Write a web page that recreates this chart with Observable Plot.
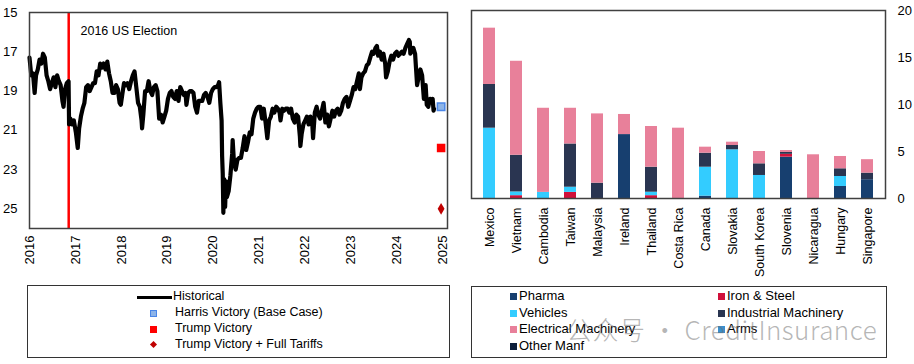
<!DOCTYPE html>
<html><head><meta charset="utf-8">
<script src="https://cdn.jsdelivr.net/npm/d3@7"></script>
<script src="https://cdn.jsdelivr.net/npm/@observablehq/plot@0.6"></script>
<style>
body{margin:0;background:#fff;font-family:"Liberation Sans",Arial,sans-serif;}
#wrap{position:relative;width:914px;height:364px;overflow:hidden;background:#fff;}
.chart{position:absolute;top:0;}
.legend{position:absolute;border:1.5px solid #333;box-sizing:border-box;color:#000;}
.item{position:absolute;white-space:nowrap;line-height:14px;}
.sw{position:absolute;}
#wm{position:absolute;left:566px;top:310px;font-family:"Noto Sans CJK SC","Noto Sans",sans-serif;font-weight:300;font-size:26px;color:rgba(110,110,110,0.5);white-space:nowrap;letter-spacing:0.5px;}
</style></head>
<body><div id="wrap"></div>
<script>
// ---------------- Left chart data (inverted USD/MXN) ----------------
const historical = [
["2016-01-01",17.3],["2016-01-15",18.2],["2016-01-29",18.1],["2016-02-11",19.1],["2016-02-22",18.2],
["2016-03-07",17.9],["2016-03-21",17.4],["2016-04-04",17.6],["2016-04-18",17.1],["2016-05-02",17.3],
["2016-05-16",18.2],["2016-05-30",18.5],["2016-06-13",18.9],["2016-06-27",18.6],["2016-07-11",18.3],
["2016-07-25",18.8],["2016-08-08",18.2],["2016-08-22",18.5],["2016-09-05",18.7],["2016-09-19",19.5],
["2016-09-28",19.8],["2016-10-10",18.9],["2016-10-24",18.6],["2016-11-07",18.5],["2016-11-11",20.7],
["2016-11-21",20.4],["2016-12-05",20.7],["2016-12-19",20.5],
["2017-01-04",21.1],["2017-01-19",21.9],["2017-01-30",20.9],["2017-02-13",20.3],["2017-02-27",19.9],
["2017-03-13",19.6],["2017-03-27",18.8],["2017-04-10",18.7],["2017-04-24",19.0],["2017-05-08",18.8],
["2017-05-22",18.6],["2017-06-05",18.6],["2017-06-19",18.0],["2017-07-03",18.2],["2017-07-17",17.6],
["2017-07-31",17.8],["2017-08-14",17.6],["2017-08-28",17.9],["2017-09-11",17.5],["2017-09-25",18.1],
["2017-10-09",18.5],["2017-10-23",19.1],["2017-11-06",19.1],["2017-11-20",18.7],["2017-12-04",18.9],
["2017-12-18",19.6],["2017-12-28",19.7],
["2018-01-08",19.2],["2018-01-22",18.6],["2018-02-05",18.7],["2018-02-19",18.6],["2018-03-05",18.9],
["2018-03-19",18.5],["2018-04-02",18.2],["2018-04-16",18.0],["2018-04-30",18.8],["2018-05-14",19.6],
["2018-05-28",19.8],["2018-06-11",20.5],["2018-06-15",20.9],["2018-06-25",20.2],["2018-07-09",19.0],
["2018-07-23",19.0],["2018-08-06",18.5],["2018-08-20",19.0],["2018-09-03",19.2],["2018-09-17",18.8],
["2018-10-01",18.7],["2018-10-15",19.0],["2018-10-29",20.4],["2018-11-12",20.2],["2018-11-26",20.6],
["2018-12-10",20.3],["2018-12-24",20.0],
["2019-01-07",19.4],["2019-01-21",19.1],["2019-02-04",19.0],["2019-02-18",19.3],["2019-03-04",19.4],
["2019-03-18",19.0],["2019-04-01",19.5],["2019-04-15",18.8],["2019-04-29",19.0],["2019-05-13",19.2],
["2019-05-27",19.1],["2019-06-03",19.7],["2019-06-17",19.1],["2019-07-01",19.0],["2019-07-15",19.0],
["2019-07-29",19.1],["2019-08-12",19.8],["2019-08-26",20.1],["2019-09-09",19.5],["2019-09-23",19.5],
["2019-10-07",19.5],["2019-10-21",19.2],["2019-11-04",19.1],["2019-11-18",19.3],["2019-12-02",19.6],
["2019-12-16",19.1],["2019-12-30",18.9],
["2020-01-13",18.8],["2020-01-27",18.8],["2020-02-10",18.7],["2020-02-18",18.55],["2020-02-28",19.6],
["2020-03-09",20.5],["2020-03-13",22.3],["2020-03-18",23.2],["2020-03-23",25.2],["2020-03-30",23.5],
["2020-04-06",24.9],["2020-04-13",23.6],["2020-04-20",24.4],["2020-05-04",24.1],["2020-05-18",23.3],
["2020-06-01",22.2],["2020-06-05",21.5],["2020-06-15",22.6],["2020-06-29",23.0],["2020-07-13",22.5],
["2020-07-27",22.4],["2020-08-10",22.4],["2020-08-24",21.9],["2020-09-07",21.3],["2020-09-21",22.0],
["2020-10-05",21.6],["2020-10-19",21.1],["2020-11-02",21.2],["2020-11-16",20.4],["2020-11-30",20.1],
["2020-12-14",19.9],["2020-12-28",19.8],
["2021-01-11",19.8],["2021-01-25",20.4],["2021-02-08",19.9],["2021-02-22",20.6],["2021-03-08",21.4],
["2021-03-22",20.5],["2021-04-05",20.3],["2021-04-19",19.9],["2021-05-03",20.1],["2021-05-17",19.8],
["2021-05-31",19.9],["2021-06-14",20.1],["2021-06-21",20.5],["2021-07-05",19.9],["2021-07-19",20.0],
["2021-08-02",19.9],["2021-08-16",19.9],["2021-08-30",20.1],["2021-09-13",19.9],["2021-09-27",20.4],
["2021-10-11",20.6],["2021-10-25",20.2],["2021-11-08",20.3],["2021-11-22",21.3],["2021-11-26",21.8],
["2021-12-06",21.2],["2021-12-20",20.7],
["2022-01-03",20.5],["2022-01-17",20.3],["2022-01-31",20.7],["2022-02-14",20.3],["2022-02-28",20.6],
["2022-03-07",21.4],["2022-03-21",20.1],["2022-04-04",19.8],["2022-04-18",20.2],["2022-05-02",20.4],
["2022-05-16",20.0],["2022-05-30",19.6],["2022-06-13",20.6],["2022-06-27",20.2],["2022-07-11",20.8],
["2022-07-25",20.4],["2022-08-08",20.0],["2022-08-22",20.3],["2022-09-05",20.0],["2022-09-19",19.9],
["2022-10-03",20.2],["2022-10-17",20.0],["2022-10-31",19.6],["2022-11-14",19.4],["2022-11-28",19.3],
["2022-12-12",19.8],["2022-12-26",19.5],
["2023-01-09",19.2],["2023-01-23",18.8],["2023-02-06",18.9],["2023-02-20",18.5],["2023-03-06",18.1],
["2023-03-15",18.9],["2023-03-27",18.3],["2023-04-10",18.1],["2023-04-24",18.0],["2023-05-08",17.7],
["2023-05-22",17.6],["2023-06-05",17.3],["2023-06-19",17.0],["2023-07-03",17.1],["2023-07-17",16.8],
["2023-07-28",16.7],["2023-08-07",17.2],["2023-08-21",17.0],["2023-09-04",17.4],["2023-09-18",17.1],
["2023-10-02",17.6],["2023-10-09",18.3],["2023-10-23",18.0],["2023-11-06",17.5],["2023-11-20",17.2],
["2023-12-04",17.4],["2023-12-18",17.1],
["2024-01-02",17.0],["2024-01-15",17.2],["2024-01-29",17.1],["2024-02-12",17.0],["2024-02-26",17.1],
["2024-03-11",16.8],["2024-03-25",16.6],["2024-04-08",16.4],["2024-04-15",16.5],["2024-04-19",17.1],
["2024-04-29",17.0],["2024-05-13",16.8],["2024-05-27",17.1],["2024-06-03",17.8],["2024-06-12",18.7],
["2024-06-24",18.3],["2024-07-08",17.9],["2024-07-22",18.2],["2024-08-05",19.4],["2024-08-12",19.1],
["2024-08-19",18.7],["2024-08-28",19.7],["2024-09-09",19.8],["2024-09-23",19.4],["2024-10-07",19.5],
["2024-10-14",19.4],["2024-10-21",20.0],["2024-10-25",19.9]
];
const scenarioNames = ["Harris Victory (Base Case)", "Trump Victory", "Trump Victory + Full Tariffs"];
const scenarioValues = [19.8, 21.9, 25.0];
const scenarioDate = "2024-12-20";
const electionDate = "2016-11-08";
const leftYTicks = [15, 17, 19, 21, 23, 25];
const leftXTicks = ["2016","2017","2018","2019","2020","2021","2022","2023","2024","2025"];

// ---------------- Right chart data ----------------
const countries = ["Mexico","Vietnam","Cambodia","Taiwan","Malaysia","Ireland","Thailand","Costa Rica","Canada","Slovakia","South Korea","Slovenia","Nicaragua","Hungary","Singapore"];
const pharma     = [0,    0,    0,    0,    0,    6.8, 0,    0,    0.25, 0,    0,    4.4, 0,    1.28, 2.0];
const ironSteel  = [0,    0.3,  0,    0.65, 0,    0,   0.3,  0,    0,    0,    0,    0.3, 0,    0,    0];
const vehicles   = [7.48, 0.4,  0.65, 0.55, 0,    0,   0.37, 0,    3.08, 5.18, 2.45, 0,   0,    1.06, 0];
const indMach    = [4.65, 3.9,  0,    4.6,  1.63, 0,   2.66, 0,    1.49, 0.46, 1.24, 0.2, 0,    0.82, 0.7];
const elecMach   = [5.99, 10.0, 8.95, 3.8,  7.37, 2.14,4.33, 7.48, 0.64, 0.35, 1.31, 0.2, 4.65, 1.31, 1.43];
const arms       = [0,0,0,0,0,0,0,0,0,0,0,0,0,0,0];
const otherManf  = [0,0,0,0,0,0,0,0,0,0,0,0,0,0,0];
const seriesNames  = ["Pharma","Iron & Steel","Vehicles","Industrial Machinery","Electrical Machinery","Arms","Other Manf"];
const seriesValues = [pharma, ironSteel, vehicles, indMach, elecMach, arms, otherManf];
const seriesColors = ["#173F6F","#D0103A","#33CCFF","#2A3551","#E8809A","#3A8FCC","#0D1F3C"];
const rightYTicks = [0, 5, 10, 15, 20];

// ---------------- Build ----------------
const wrap = document.getElementById("wrap");
const font = {fontFamily: "'Liberation Sans', Arial, sans-serif", fontSize: "12.5px", color: "#000", background: "transparent", overflow: "visible"};

const hist = historical.map(([d, v]) => ({date: new Date(d), value: v}));
const scen = scenarioNames.map((n, i) => ({name: n, date: new Date(scenarioDate), value: scenarioValues[i]}));

const left = Plot.plot({
  width: 457, height: 280,
  marginLeft: 29, marginRight: 10, marginTop: 12, marginBottom: 52,
  style: font,
  x: {type: "utc", domain: [new Date("2016-01-01"), new Date("2025-02-09")]},
  y: {domain: [15, 26], reverse: true},
  marks: [
    Plot.axisY({ticks: leftYTicks, tickSize: 0, tickPadding: 12, label: null, fontSize: 13}),
    Plot.axisX({ticks: leftXTicks.map(y => new Date(y + "-01-01")), tickFormat: d3.utcFormat("%Y"), tickRotate: -90, tickSize: 0, tickPadding: 7, label: null, fontSize: 13}),
    Plot.ruleX([new Date(electionDate)], {stroke: "#FF0000", strokeWidth: 2.5}),
    Plot.line(hist, {x: "date", y: "value", stroke: "#000", strokeWidth: 4.2, strokeLinejoin: "round"}),
    Plot.dot(scen.slice(0, 1), {x: "date", y: "value", symbol: "square", r: 4.2, fill: "#8DB4E8", stroke: "#4A86E8", strokeWidth: 1.5}),
    Plot.dot(scen.slice(1, 2), {x: "date", y: "value", symbol: "square", r: 4.8, fill: "#FF0000"}),
    Plot.dot(scen.slice(2, 3), {x: "date", y: "value", symbol: "diamond", r: 3.6, fill: "#C00000"}),
    Plot.text(["2016 US Election"], {frameAnchor: "top-left", dx: 51, dy: 14, textAnchor: "start", fontSize: 12.5, fill: "#000"}),
    Plot.frame({stroke: "#404040", strokeWidth: 1.5})
  ]
});
left.classList.add("chart");
left.style.left = "0px";
wrap.appendChild(left);

const barData = [];
seriesNames.forEach((s, si) => countries.forEach((c, ci) => barData.push({country: c, series: s, value: seriesValues[si][ci]})));

const right = Plot.plot({
  width: 454, height: 280,
  marginLeft: 11, marginRight: 29, marginTop: 10, marginBottom: 82,
  style: font,
  x: {domain: countries, paddingInner: 0.56, paddingOuter: 0.28},
  y: {domain: [0, 20]},
  color: {domain: seriesNames, range: seriesColors},
  marks: [
    Plot.barY(barData, {x: "country", y: "value", fill: "series", order: seriesNames}),
    Plot.axisY({anchor: "right", ticks: rightYTicks, tickSize: 0, tickPadding: 12, label: null, fontSize: 13}),
    Plot.axisX({tickRotate: -90, tickSize: 0, tickPadding: 9, label: null, fontSize: 12.5}),
    Plot.frame({stroke: "#404040", strokeWidth: 1.5})
  ]
});
right.classList.add("chart");
right.style.left = "460px";
wrap.appendChild(right);

// ---------------- Legends ----------------
function el(tag, cls, css, text) {
  const e = document.createElement(tag);
  if (cls) e.className = cls;
  Object.assign(e.style, css);
  if (text) e.textContent = text;
  return e;
}
const lg = el("div", "legend", {left: "27px", top: "285px", width: "423px", height: "73px", fontSize: "12.5px"});
wrap.appendChild(lg);
lg.appendChild(el("div", "sw", {left: "109px", top: "10px", width: "35px", height: "3px", background: "#000"}));
lg.appendChild(el("div", "item", {left: "145px", top: "3px"}, "Historical"));
lg.appendChild(el("div", "sw", {left: "122px", top: "24px", width: "5px", height: "5px", background: "#8DB4E8", border: "1px solid #4A86E8"}));
lg.appendChild(el("div", "item", {left: "147px", top: "19px"}, scenarioNames[0]));
lg.appendChild(el("div", "sw", {left: "122px", top: "40px", width: "7px", height: "7px", background: "#FF0000"}));
lg.appendChild(el("div", "item", {left: "147px", top: "35px"}, scenarioNames[1]));
lg.appendChild(el("div", "sw", {left: "123px", top: "56px", width: "5px", height: "5px", background: "#C00000", transform: "rotate(45deg)"}));
lg.appendChild(el("div", "item", {left: "147px", top: "51px"}, scenarioNames[2]));

const rg = el("div", "legend", {left: "471px", top: "286px", width: "416px", height: "72px", fontSize: "13px"});
wrap.appendChild(rg);
const leftCol = ["Pharma","Vehicles","Electrical Machinery","Other Manf"];
const rightCol = ["Iron & Steel","Industrial Machinery","Arms"];
const rowTops = [2, 19, 35, 52];
leftCol.forEach((s, i) => {
  const c = seriesColors[seriesNames.indexOf(s)];
  rg.appendChild(el("div", "sw", {left: "38px", top: (rowTops[i] + 4) + "px", width: "7px", height: "7px", background: c}));
  rg.appendChild(el("div", "item", {left: "47px", top: rowTops[i] + "px"}, s));
});
rightCol.forEach((s, i) => {
  const c = seriesColors[seriesNames.indexOf(s)];
  rg.appendChild(el("div", "sw", {left: "246px", top: (rowTops[i] + 4) + "px", width: "7px", height: "7px", background: c}));
  rg.appendChild(el("div", "item", {left: "255px", top: rowTops[i] + "px"}, s));
});

const wm = el("div", null, {}, "公众号 · CreditInsurance");
wm.id = "wm";
wrap.appendChild(wm);
</script>
</body></html>
